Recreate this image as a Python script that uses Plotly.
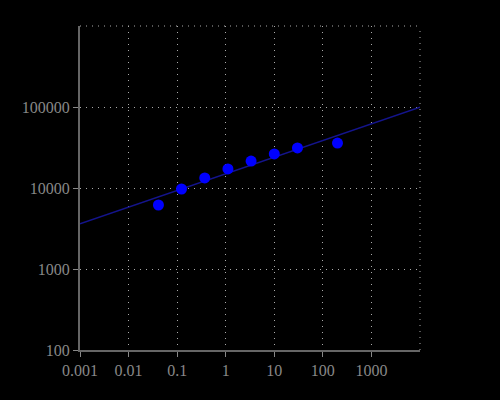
import numpy as np
import plotly.graph_objects as go

conc = [0.0412, 0.123, 0.37, 1.11, 3.33, 10, 30, 200]
signal = [6170, 9720, 13300, 17200, 21500, 26300, 31200, 35900]

x_tickvals = [0.001, 0.01, 0.1, 1, 10, 100, 1000]
x_ticktext = ["0.001", "0.01", "0.1", "1", "10", "100", "1000"]
y_tickvals = [100, 1000, 10000, 100000]
y_ticktext = ["100", "1000", "10000", "100000"]
x_range = [0.001, 10000]
y_range = [100, 1000000]

# power-law fit in log-log space
b, loga = np.polyfit(np.log10(conc), np.log10(signal), 1)
fit_x = np.logspace(np.log10(x_range[0]), np.log10(x_range[1]), 100)
fit_y = 10 ** (loga + b * np.log10(fit_x))

fig = go.Figure()
fig.add_trace(go.Scatter(x=fit_x, y=fit_y, mode="lines",
                         line=dict(color="#14148c", width=1.5), hoverinfo="skip"))
fig.add_trace(go.Scatter(x=conc, y=signal, mode="markers",
                         marker=dict(color="#0000ff", size=11)))

dash = "1px,5px"
grid = dict(color="#aaaaaa", width=1, dash=dash)
axis_font = dict(family="Liberation Serif", size=16, color="#888888")
common = dict(showgrid=True, gridcolor="#aaaaaa", griddash=dash, gridwidth=1,
              showline=True, linecolor="#666666", linewidth=2,
              ticks="outside", ticklen=5, tickcolor="#888888",
              tickfont=axis_font, zeroline=False)
fig.update_xaxes(type="log", range=[np.log10(x_range[0]), np.log10(x_range[1])],
                 tickvals=x_tickvals, ticktext=x_ticktext, **common)
fig.update_yaxes(type="log", range=[np.log10(y_range[0]), np.log10(y_range[1])],
                 tickvals=y_tickvals, ticktext=y_ticktext, **common)
fig.add_shape(type="line", xref="paper", yref="paper", x0=0, x1=1, y0=1, y1=1,
              line=grid, layer="below")
fig.add_shape(type="line", xref="paper", yref="paper", x0=1, x1=1, y0=0, y1=1,
              line=grid, layer="below")
fig.update_layout(width=500, height=400, paper_bgcolor="#000000", plot_bgcolor="#000000",
                  margin=dict(l=80, r=80, t=26, b=50), showlegend=False)
fig.write_html("out.html", config={"displayModeBar": False},
               post_script="document.body.style.margin='0';document.body.style.background='#000';")
